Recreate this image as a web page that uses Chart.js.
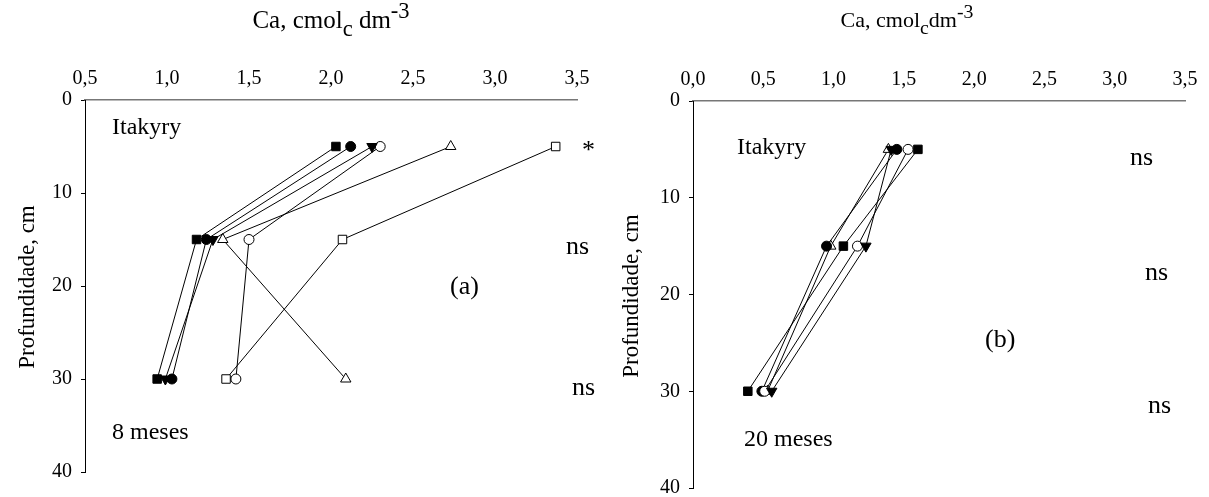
<!DOCTYPE html>
<html>
<head>
<meta charset="utf-8">
<script src="https://cdn.jsdelivr.net/npm/chart.js@4/dist/chart.umd.min.js"></script>
<style>
body { margin: 0; background: #fff; overflow: hidden; }
#wrap { position: relative; width: 1209px; height: 497px; overflow: hidden; }
canvas { position: absolute; top: 0; }
</style>
</head>
<body>
<div id="wrap">
<canvas id="c8" width="605" height="497" style="left:0px"></canvas>
<canvas id="c20" width="604" height="502" style="left:605px"></canvas>
</div>
<script>
// profundidade (cm)
var depths = [5, 15, 30];

// Ca, 8 meses
var sqFilled8   = [2.03, 1.18, 0.94];
var circFilled8 = [2.12, 1.24, 1.03];
var triDown8    = [2.25, 1.28, 0.99];
var circOpen8   = [2.30, 1.50, 1.42];
var triOpen8    = [2.73, 1.34, 2.09];
var sqOpen8     = [3.37, 2.07, 1.36];

// Ca, 20 meses
var sqFilled20   = [1.60, 1.07, 0.39];
var circFilled20 = [1.45, 0.95, 0.49];
var triDown20    = [1.41, 1.23, 0.56];
var circOpen20   = [1.53, 1.17, 0.51];
var triOpen20    = [1.39, 0.98, 0.53];

var xTicks8 = [0.5, 1.0, 1.5, 2.0, 2.5, 3.0, 3.5];
var xTicks20 = [0.0, 0.5, 1.0, 1.5, 2.0, 2.5, 3.0, 3.5];
var yTicks = [0, 10, 20, 30, 40];

var FONT = "'Liberation Serif', 'DejaVu Serif', serif";

function pts(vals) {
    var out = [];
    for (var i = 0; i < vals.length; i++) out.push({x: vals[i], y: depths[i]});
    return out;
}

function series(vals, style, filled, rot, r) {
    return {
        data: pts(vals),
        showLine: true,
        borderColor: '#000',
        borderWidth: 1,
        pointStyle: style,
        pointRotation: rot || 0,
        pointRadius: r,
        pointHoverRadius: r,
        pointBackgroundColor: filled ? '#000' : '#fff',
        pointBorderColor: '#000',
        pointBorderWidth: 1
    };
}

function comma(v) { return v.toFixed(1).replace('.', ','); }

function drawUnit(ctx, cx, base, size, space) {
    var parts = [
        ['Ca, cmol', size, 0],
        ['c', size * 0.9, size * 0.3],
        [space ? ' dm' : 'dm', size, 0],
        ['-3', size * 0.9, -size * 0.42]
    ];
    var w = 0;
    parts.forEach(function(p) { ctx.font = p[1] + 'px ' + FONT; w += ctx.measureText(p[0]).width; });
    var x = cx - w / 2;
    ctx.textAlign = 'left';
    ctx.textBaseline = 'alphabetic';
    parts.forEach(function(p) {
        ctx.font = p[1] + 'px ' + FONT;
        ctx.fillText(p[0], x, base + p[2]);
        x += ctx.measureText(p[0]).width;
    });
}

function textPlugin(texts, unit, yTitle) {
    return {
        id: 'txt',
        afterDraw: function(chart) {
            var ctx = chart.ctx;
            ctx.save();
            ctx.fillStyle = '#000';
            drawUnit(ctx, unit[0], unit[1], unit[2], unit[3]);
            ctx.textBaseline = 'middle';
            ctx.textAlign = 'left';
            texts.forEach(function(t) {
                ctx.font = t[3] + 'px ' + FONT;
                ctx.fillText(t[0], t[1], t[2]);
            });
            ctx.translate(yTitle[0], yTitle[1]);
            ctx.rotate(-Math.PI / 2);
            ctx.textAlign = 'center';
            ctx.font = '23px ' + FONT;
            ctx.fillText('Profundidade, cm', 0, 0);
            ctx.restore();
        }
    };
}

function makeChart(id, datasets, xmin, xticks, pad, yWidth, texts, unit, yTitle) {
    return new Chart(document.getElementById(id), {
        type: 'scatter',
        data: { datasets: datasets },
        options: {
            responsive: false,
            animation: false,
            layout: { padding: pad },
            plugins: { legend: { display: false }, tooltip: { enabled: false } },
            scales: {
                x: {
                    type: 'linear',
                    position: 'top',
                    min: xmin, max: 3.5,
                    afterBuildTicks: function(s) { s.ticks = xticks.map(function(v) { return {value: v}; }); },
                    afterFit: function(s) { s.height = pad.xh; },
                    grid: { drawOnChartArea: false, drawTicks: false },
                    border: { color: '#777', width: 1.5 },
                    ticks: { color: '#000', padding: 9, font: { family: FONT, size: 20 },
                        callback: function(v) { return comma(v); } }
                },
                y: {
                    type: 'linear',
                    reverse: true,
                    min: 0, max: 40,
                    afterBuildTicks: function(s) { s.ticks = yTicks.map(function(v) { return {value: v}; }); },
                    afterFit: function(s) { s.width = yWidth; },
                    grid: { drawOnChartArea: false, drawTicks: true, tickLength: 4, color: '#000' },
                    border: { color: '#000', width: 1 },
                    ticks: { color: '#000', padding: 9, font: { family: FONT, size: 20, lineHeight: 0.5 } }
                }
            }
        },
        plugins: [textPlugin(texts, unit, yTitle)]
    });
}

makeChart('c8', [
    series(sqFilled8, 'rect', true, 0, 6),
    series(circFilled8, 'circle', true, 0, 5),
    series(triDown8, 'triangle', true, 180, 6),
    series(circOpen8, 'circle', false, 0, 5),
    series(triOpen8, 'triangle', false, 0, 6),
    series(sqOpen8, 'rect', false, 0, 6)
], 0.5, xTicks8, {left: 0, top: 0, right: 28, bottom: 25, xh: 100}, 85, [
    ['Itakyry', 112, 128, 24],
    ['*', 582, 151, 26],
    ['ns', 566, 247, 26],
    ['(a)', 450, 287, 26],
    ['ns', 572, 388, 26],
    ['8 meses', 112, 433, 24]
], [331, 28, 25, true], [28, 287]);

makeChart('c20', [
    series(sqFilled20, 'rect', true, 0, 6),
    series(triDown20, 'triangle', true, 180, 6),
    series(circOpen20, 'circle', false, 0, 5),
    series(circFilled20, 'circle', true, 0, 5),
    series(triOpen20, 'triangle', false, 0, 6)
], 0.0, xTicks20, {left: 0, top: 0, right: 24, bottom: 9, xh: 101}, 88, [
    ['Itakyry', 132, 148, 24],
    ['ns', 525, 158, 26],
    ['ns', 540, 273, 26],
    ['(b)', 380, 340, 26],
    ['ns', 543, 406, 26],
    ['20 meses', 139, 440, 24]
], [302, 27, 22, false], [27, 296]);
</script>
</body>
</html>
